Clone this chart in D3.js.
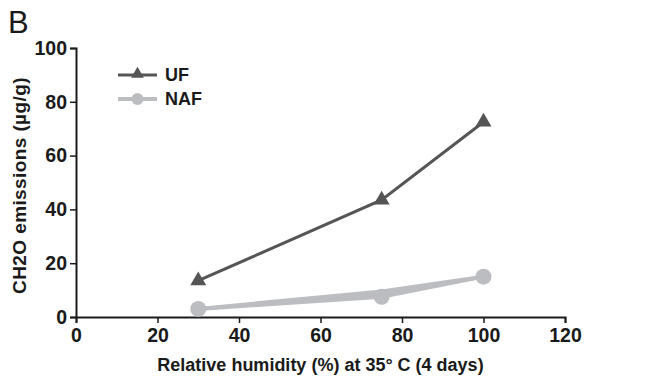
<!DOCTYPE html>
<html>
<head>
<meta charset="utf-8">
<script src="https://cdn.jsdelivr.net/npm/d3@7"></script>
<style>
  body { margin: 0; background: #fff; }
  text { font-family: "Liberation Sans", Arial, sans-serif; }
</style>
</head>
<body>
<div id="chart"></div>
<script>
// chart data
const humidity = [30, 75, 100];
const ufValues = [13.5, 43.5, 72.5];
const nafValues = [3, 7.5, 15];
const nafUpper = [3, 9.5, 15];
const xTicks = [0, 20, 40, 60, 80, 100, 120];
const yTicks = [0, 20, 40, 60, 80, 100];

const width = 652, height = 380;
const margin = { top: 48, right: 87, bottom: 63, left: 76 };

const svg = d3.select('#chart').append('svg')
  .attr('width', width)
  .attr('height', height);

const x = d3.scaleLinear().domain([0, 120]).range([margin.left, width - margin.right]);
const y = d3.scaleLinear().domain([0, 100]).range([height - margin.bottom, margin.top]);

// axes
const xAxis = svg.append('g')
  .attr('transform', `translate(0,${y(0)})`)
  .call(d3.axisBottom(x).tickValues(xTicks).tickSize(6).tickPadding(5).tickFormat(d3.format('d')));
const yAxis = svg.append('g')
  .attr('transform', `translate(${x(0)},0)`)
  .call(d3.axisLeft(y).tickValues(yTicks).tickSize(6).tickPadding(3).tickFormat(d3.format('d')));

[xAxis, yAxis].forEach(g => {
  g.select('.domain').attr('stroke', '#1a1a1a').attr('stroke-width', 2);
  g.selectAll('.tick line').attr('stroke', '#1a1a1a').attr('stroke-width', 1.5);
  g.selectAll('.tick text')
    .attr('fill', '#1a1a1a')
    .style('font-size', '19.5px')
    .style('font-weight', 'bold')
    .style('font-family', '"Liberation Sans", Arial, sans-serif');
});

// axis titles
svg.append('text')
  .attr('x', (x(0) + x(120)) / 2)
  .attr('y', 371)
  .attr('text-anchor', 'middle')
  .attr('fill', '#1a1a1a')
  .style('font-size', '18px')
  .style('font-weight', 'bold')
  .text('Relative humidity (%) at 35° C (4 days)');

svg.append('text')
  .attr('transform', 'translate(26,185.5) rotate(-90)')
  .attr('text-anchor', 'middle')
  .attr('fill', '#1a1a1a')
  .style('font-size', '19px')
  .style('font-weight', 'bold')
  .style('letter-spacing', '0.4px')
  .text('CH2O emissions (µg/g)');

// panel letter
svg.append('text')
  .attr('x', 8)
  .attr('y', 33)
  .attr('fill', '#1a1a1a')
  .style('font-size', '31px')
  .text('B');

const line = d3.line().x(d => x(d[0])).y(d => y(d[1]));
const ufColor = '#555555', nafColor = '#bcbdc1';

// NAF series (two overlapping traces, band between them filled)
svg.append('path')
  .datum(humidity.map((h, i) => [h, nafValues[i], nafUpper[i]]))
  .attr('d', d3.area().x(d => x(d[0])).y0(d => y(d[1])).y1(d => y(d[2])))
  .attr('fill', nafColor);
[nafValues, nafUpper].forEach(vals => {
  svg.append('path')
    .datum(humidity.map((h, i) => [h, vals[i]]))
    .attr('d', line)
    .attr('fill', 'none')
    .attr('stroke', nafColor)
    .attr('stroke-width', 4);
});
svg.selectAll('.naf')
  .data(humidity.map((h, i) => [h, nafValues[i]]))
  .join('circle')
  .attr('class', 'naf')
  .attr('cx', d => x(d[0]))
  .attr('cy', d => y(d[1]))
  .attr('r', 8)
  .attr('fill', nafColor);

// UF series
svg.append('path')
  .datum(humidity.map((h, i) => [h, ufValues[i]]))
  .attr('d', line)
  .attr('fill', 'none')
  .attr('stroke', ufColor)
  .attr('stroke-width', 3);
const tri = d3.symbol().type(d3.symbolTriangle).size(110);
svg.selectAll('.uf')
  .data(humidity.map((h, i) => [h, ufValues[i]]))
  .join('path')
  .attr('class', 'uf')
  .attr('d', tri)
  .attr('transform', d => `translate(${x(d[0])},${y(d[1])})`)
  .attr('fill', ufColor);

// legend
const legend = [
  { name: 'UF', color: ufColor, sym: 'tri', w: 3 },
  { name: 'NAF', color: nafColor, sym: 'circle', w: 4 }
];
legend.forEach((l, i) => {
  const ly = 75 + i * 24;
  const g = svg.append('g');
  g.append('line')
    .attr('x1', 118).attr('x2', 157).attr('y1', ly).attr('y2', ly)
    .attr('stroke', l.color).attr('stroke-width', l.w);
  if (l.sym === 'tri') {
    g.append('path').attr('d', d3.symbol().type(d3.symbolTriangle).size(70))
      .attr('transform', `translate(137.5,${ly - 1})`).attr('fill', l.color);
  } else {
    g.append('circle').attr('cx', 137.5).attr('cy', ly).attr('r', 6).attr('fill', l.color);
  }
  g.append('text')
    .attr('x', 165).attr('y', ly + 6)
    .attr('fill', '#1a1a1a')
    .style('font-size', '18px')
    .style('font-weight', 'bold')
    .text(l.name);
});
</script>
</body>
</html>
